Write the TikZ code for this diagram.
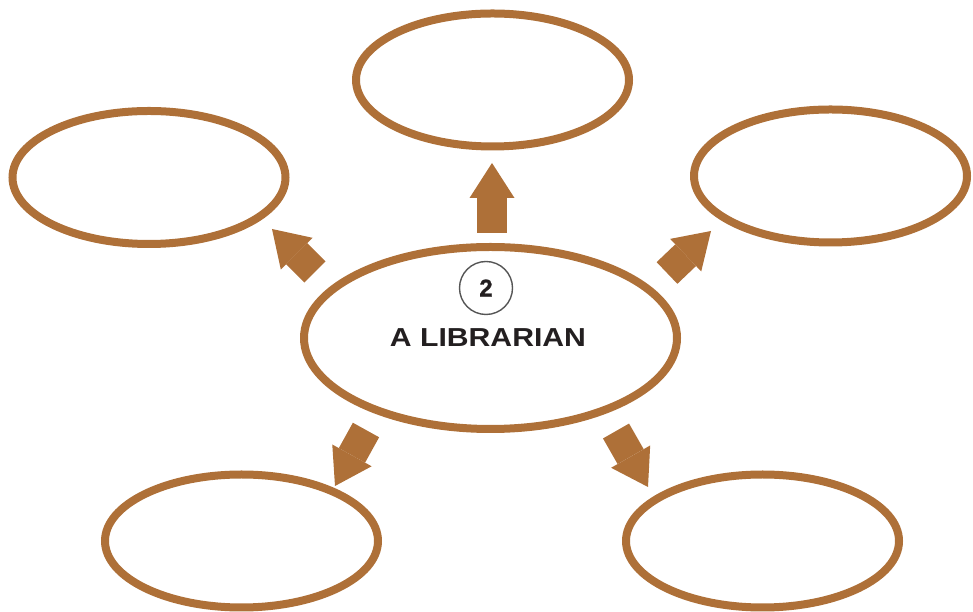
\documentclass[tikz,border=0pt]{standalone}
\usepackage{fontspec}
\newfontfamily\titlefont[FakeStretch=1.16]{Liberation Sans}
\newfontfamily\numfont[FakeBold=1.2]{Liberation Sans}
\usetikzlibrary{shapes.geometric,arrows.meta}
\definecolor{mapbrown}{RGB}{174,112,56}
\definecolor{ringgray}{RGB}{85,85,85}
\definecolor{inkblack}{RGB}{35,31,32}

\begin{document}
\begin{tikzpicture}[x=1pt,y=1pt,
    blockarrow/.style={draw=mapbrown,line width=30pt,-{Triangle[width=45pt,length=35pt,line width=0pt,fill=mapbrown]}}]

      \useasboundingbox (0,0) rectangle (973,612);

      \begin{scope}[every node/.style={ellipse,draw=mapbrown,line width=8pt,inner sep=0pt}]
        \node[minimum width=373pt,minimum height=182pt] (main) at (490.5,274) {};
        \foreach \name/\x/\y in {up/492.5/532, upleft/149/434.5, upright/830.5/436,
                                 downleft/241.5/71, downright/762.5/71}
          \node[minimum width=273pt,minimum height=133pt] (\name) at (\x,\y) {};
      \end{scope}

      \foreach \name/\ax/\ay/\bx/\by in {up/492/379/492/449, upleft/315/340/272/383,
                                         upright/667/339/711/381, downleft/366/182/335/126,
                                         downright/616/181/648/125}{
        \coordinate (\name-tail) at (\ax,\ay);
        \coordinate (\name-tip) at (\bx,\by);
        \draw[blockarrow] (\name-tail) -- (\name-tip);
      }

      \node[circle,draw=ringgray,line width=1.4pt,minimum size=53pt,inner sep=0pt,
            text=inkblack,font=\numfont\bfseries\fontsize{24}{28}\selectfont] (num) at (486,324) {2};
      \node[anchor=base,text=inkblack,font=\titlefont\bfseries\fontsize{26}{30}\selectfont]
            (title) at (488,265) {A LIBRARIAN};

    \end{tikzpicture}
\end{document}
